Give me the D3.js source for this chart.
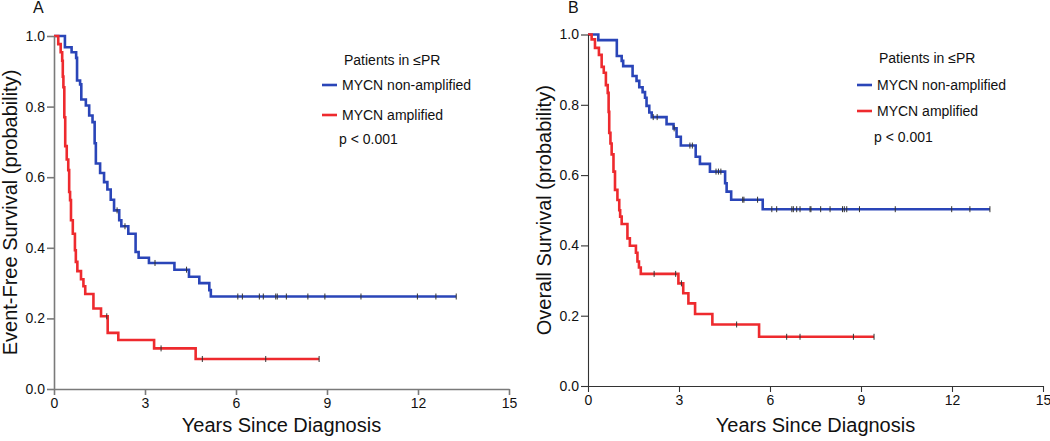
<!DOCTYPE html>
<html>
<head>
<meta charset="utf-8">
<script src="https://cdn.jsdelivr.net/npm/d3@7"></script>
<style>
  body { margin: 0; background: #fff; }
  svg { font-family: "Liberation Sans", Arial, sans-serif; }
</style>
</head>
<body>
<script>
// time points (years) and survival probability at each step
var efsNonAmpTimes = [0, 0.36, 0.58, 0.73, 0.76, 0.86, 0.9, 1.05, 1.16, 1.27, 1.34, 1.38, 1.52, 1.65, 1.76, 1.87, 1.98, 2.15, 2.22, 2.45, 2.69, 2.79, 3.13, 3.97, 4.45, 4.79, 5.12, 5.17]
var efsNonAmpSurv = [1.0, 0.968, 0.954, 0.938, 0.874, 0.863, 0.82, 0.803, 0.775, 0.756, 0.696, 0.639, 0.612, 0.586, 0.565, 0.536, 0.506, 0.478, 0.461, 0.44, 0.388, 0.372, 0.357, 0.338, 0.318, 0.30, 0.28, 0.262]
var efsNonAmpCensor = [2.08, 2.34, 3.33, 4.37, 6.06, 6.21, 6.77, 6.9, 7.31, 7.36, 7.66, 8.37, 8.93, 10.12, 11.98, 12.59, 13.26]

var efsAmpTimes = [0, 0.14, 0.22, 0.27, 0.29, 0.31, 0.34, 0.37, 0.42, 0.47, 0.5, 0.53, 0.56, 0.62, 0.69, 0.72, 0.77, 0.89, 0.97, 1.03, 1.3, 1.55, 1.77, 2.12, 3.3, 4.67]
var efsAmpSurv = [1.0, 0.977, 0.954, 0.93, 0.885, 0.855, 0.77, 0.688, 0.65, 0.62, 0.558, 0.535, 0.478, 0.44, 0.393, 0.36, 0.334, 0.311, 0.291, 0.269, 0.228, 0.206, 0.159, 0.139, 0.115, 0.085]
var efsAmpCensor = [1.74, 3.53, 4.89, 6.98, 8.74]

var osNonAmpTimes = [0, 0.34, 0.95, 1.11, 1.16, 1.47, 1.6, 1.69, 1.8, 1.88, 1.93, 2.02, 2.1, 2.59, 2.82, 2.92, 3.06, 3.55, 3.69, 4.02, 4.52, 4.57, 4.72, 5.76]
var osNonAmpSurv = [1.0, 0.984, 0.939, 0.925, 0.91, 0.882, 0.868, 0.85, 0.836, 0.82, 0.797, 0.778, 0.765, 0.745, 0.733, 0.709, 0.684, 0.652, 0.632, 0.61, 0.577, 0.553, 0.53, 0.503]
var osNonAmpCensor = [2.15, 2.28, 2.84, 3.36, 3.44, 4.22, 4.3, 4.38, 5.1, 5.14, 5.59, 6.06, 6.22, 6.72, 6.77, 6.88, 6.99, 7.32, 7.35, 7.67, 7.98, 8.39, 8.45, 8.53, 8.95, 10.13, 11.99, 12.59, 13.25]

var osAmpTimes = [0, 0.12, 0.23, 0.36, 0.45, 0.52, 0.59, 0.65, 0.68, 0.7, 0.74, 0.78, 0.84, 0.89, 0.97, 1.03, 1.06, 1.11, 1.3, 1.38, 1.58, 1.63, 1.68, 1.74, 2.98, 3.14, 3.31, 3.53, 4.1, 5.64]
var osAmpSurv = [1.0, 0.986, 0.962, 0.942, 0.908, 0.891, 0.856, 0.834, 0.78, 0.72, 0.69, 0.659, 0.61, 0.558, 0.529, 0.5, 0.482, 0.461, 0.42, 0.399, 0.379, 0.354, 0.337, 0.319, 0.292, 0.264, 0.235, 0.205, 0.175, 0.14]
var osAmpCensor = [2.18, 2.89, 3.08, 4.9, 6.55, 6.99, 8.75, 9.43]

var xTicks = [0, 3, 6, 9, 12, 15]
var yTicks = [0, 0.2, 0.4, 0.6, 0.8, 1.0]
var legendTitle = "Patients in \u2264PR"
var seriesNames = ["MYCN non-amplified", "MYCN amplified"]
var pText = "p < 0.001"

var blue = "#2a45b8", red = "#ee2a2e"

var svg = d3.select("body").append("svg")
  .attr("width", 1050)
  .attr("height", 441)

function stepData(times, surv, censor) {
  var pts = times.map(function(t, i) { return { t: t, s: surv[i] } })
  var last = d3.max(censor)
  if (last > times[times.length - 1]) pts.push({ t: last, s: surv[surv.length - 1] })
  return pts
}

function survAt(times, surv, t) {
  var i = d3.bisectRight(times, t) - 1
  return surv[Math.max(i, 0)]
}

function panel(opt) {
  var x = d3.scaleLinear().domain([0, 15]).range([opt.left, opt.right])
  var y = d3.scaleLinear().domain([0, 1]).range([opt.bottom, opt.top])
  var g = svg.append("g")

  var line = d3.line()
    .x(function(d) { return x(d.t) })
    .y(function(d) { return y(d.s) })
    .curve(d3.curveStepAfter)

  opt.series.forEach(function(s) {
    g.append("path")
      .datum(stepData(s.times, s.surv, s.censor))
      .attr("fill", "none")
      .attr("stroke", s.color)
      .attr("stroke-width", 2.6)
      .attr("d", line)

    g.selectAll(null)
      .data(s.censor)
      .enter().append("line")
      .attr("x1", function(d) { return x(d) })
      .attr("x2", function(d) { return x(d) })
      .attr("y1", function(d) { return y(survAt(s.times, s.surv, d)) - 3 })
      .attr("y2", function(d) { return y(survAt(s.times, s.surv, d)) + 3 })
      .attr("stroke", "#333")
      .attr("stroke-width", 1)
  })

  var xAxis = g.append("g")
    .attr("transform", "translate(0," + opt.bottom + ")")
    .call(d3.axisBottom(x).tickValues(xTicks).tickSize(6).tickSizeOuter(0).tickPadding(3))
  var yAxis = g.append("g")
    .attr("transform", "translate(" + opt.left + ",0)")
    .call(d3.axisLeft(y).tickValues(yTicks).tickFormat(d3.format(".1f")).tickSize(7).tickSizeOuter(0).tickPadding(2))

  ;[xAxis, yAxis].forEach(function(a) {
    a.selectAll("path, line").attr("stroke", opt.axisColor).attr("stroke-width", opt.axisWidth)
    a.selectAll("text").attr("fill", "#111").style("font-size", "14px")
      .style("font-family", "'Liberation Sans', Arial, sans-serif")
  })

  g.append("text")
    .attr("x", (opt.left + opt.right) / 2)
    .attr("y", 432)
    .attr("text-anchor", "middle")
    .style("font-size", "20px")
    .attr("fill", "#111")
    .text("Years Since Diagnosis")

  g.append("text")
    .attr("transform", "translate(" + opt.yTitleX + "," + ((opt.top + opt.bottom) / 2) + ") rotate(-90)")
    .attr("text-anchor", "middle")
    .style("font-size", "20px")
    .attr("fill", "#111")
    .text(opt.yTitle)

  g.append("text")
    .attr("x", opt.labelX)
    .attr("y", 13)
    .style("font-size", "16px")
    .attr("fill", "#111")
    .text(opt.label)

  // legend
  var lg = g.append("g")
  lg.append("text")
    .attr("x", opt.legX + 22).attr("y", opt.legY[0] + 5)
    .style("font-size", "14px").attr("fill", "#111")
    .text(legendTitle)
  opt.series.forEach(function(s, i) {
    lg.append("line")
      .attr("x1", opt.legX).attr("x2", opt.legX + 15)
      .attr("y1", opt.legY[i + 1]).attr("y2", opt.legY[i + 1])
      .attr("stroke", s.color).attr("stroke-width", 2.6)
    lg.append("text")
      .attr("x", opt.legX + 20).attr("y", opt.legY[i + 1] + 5)
      .style("font-size", "14px").attr("fill", "#111")
      .text(seriesNames[i])
  })
  lg.append("text")
    .attr("x", opt.legX + 17).attr("y", opt.legY[3] + 5)
    .style("font-size", "14px").attr("fill", "#111")
    .text(pText)
}

panel({
  left: 54, right: 509, top: 36, bottom: 389,
  axisColor: "#7a7a7a", axisWidth: 1.6,
  yTitle: "Event-Free Survival (probability)", yTitleX: 17,
  label: "A", labelX: 33,
  legX: 322, legY: [60, 85, 115, 139],
  series: [
    { times: efsNonAmpTimes, surv: efsNonAmpSurv, censor: efsNonAmpCensor, color: blue },
    { times: efsAmpTimes, surv: efsAmpSurv, censor: efsAmpCensor, color: red }
  ]
})

panel({
  left: 588, right: 1043, top: 34.5, bottom: 386,
  axisColor: "#333", axisWidth: 1.1,
  yTitle: "Overall Survival (probability)", yTitleX: 551,
  label: "B", labelX: 568,
  legX: 857, legY: [58, 85, 111, 137],
  series: [
    { times: osNonAmpTimes, surv: osNonAmpSurv, censor: osNonAmpCensor, color: blue },
    { times: osAmpTimes, surv: osAmpSurv, censor: osAmpCensor, color: red }
  ]
})
</script>
</body>
</html>
